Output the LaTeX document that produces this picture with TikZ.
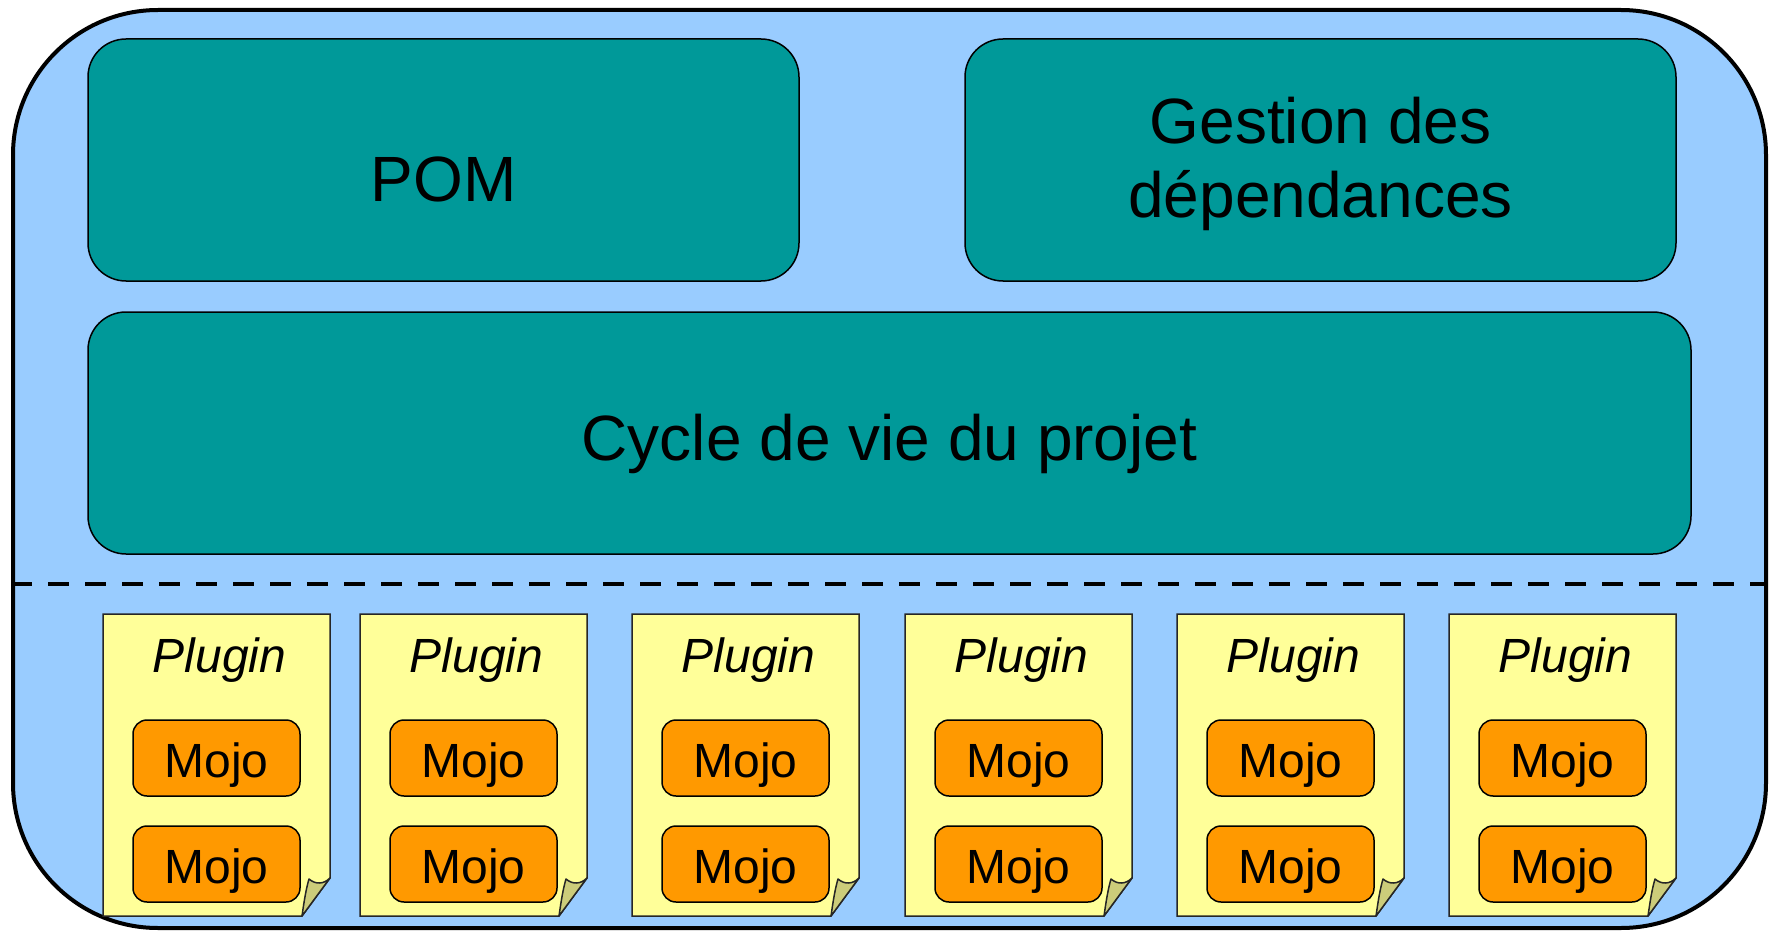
\documentclass[tikz,border=0pt]{standalone}
\usepackage{fontspec}
\setmainfont{Liberation Sans}
\definecolor{bgblue}{HTML}{99CCFF}
\definecolor{tealbox}{HTML}{009999}
\definecolor{pageyellow}{HTML}{FFFF99}
\definecolor{flapcol}{HTML}{CCCC7A}
\definecolor{mojoorange}{HTML}{FF9900}
\tikzset{
  outerbox/.style={draw=black, line width=2pt, fill=bgblue, rounded corners=72.5pt, inner sep=0pt},
  tealnode/.style={draw=black, line width=0.75pt, fill=tealbox, rounded corners=19pt, inner sep=0pt,
     minimum height=121pt},
  bigtext/.style={font=\fontsize{32pt}{37pt}\selectfont, inner sep=0pt},
  pagebody/.style={draw=black!85, line width=0.75pt, fill=pageyellow},
  pageflap/.style={draw=black!85, line width=0.75pt, fill=flapcol, line join=round},
  plugtext/.style={font=\fontsize{24pt}{28pt}\selectfont\itshape, inner sep=0pt, anchor=base},
  mojobox/.style={draw=black, line width=0.75pt, fill=mojoorange, rounded corners=7pt, inner sep=0pt,
     minimum width=83.5pt, minimum height=38pt, text height=19pt, text depth=0pt,
     font=\fontsize{24pt}{28pt}\selectfont},
  divider/.style={line width=2.25pt, dash pattern=on 10.5pt off 8pt}
}
\begin{document}
\begin{tikzpicture}[x=0.5pt,y=-0.5pt]
\useasboundingbox (0,0) rectangle (1774,931);
\node[outerbox, minimum width=876.5pt, minimum height=459pt] (outer) at (889.5,469) {};

\node[tealnode, minimum width=355.5pt] (pom) at (443.5,160) {};
\node[bigtext, anchor=base] (pomtext) at (443.5,202) {POM};
\node[tealnode, minimum width=355.5pt] (gest) at (1320.5,160) {};
\node[bigtext, anchor=base] (gesta) at (1320.5,144) {Gestion des};
\node[bigtext, anchor=base] (gestb) at (1320.5,218) {dépendances};
\node[tealnode, minimum width=801.5pt] (cycle) at (889.5,433) {};
\node[bigtext, anchor=base] (cycletext) at (889.5,460) {Cycle de vie du projet};

\coordinate (dashy) at (0,584);
\draw[divider] (outer.west |- dashy) -- (outer.east |- dashy);

\foreach \i/\x in {1/103,2/360,3/632,4/905,5/1177,6/1449}{
  \pgfmathsetmacro{\R}{\x+227}
  \pgfmathsetmacro{\C}{\x+113.5}
  \draw[pagebody] (\x,614) -- (\R,614) -- (\R,878) -- ({\R-28},916) -- (\x,916) -- cycle;
  \draw[pageflap] ({\R-28},916) .. controls ({\R-26},902) and ({\R-24},889) .. ({\R-21},879)
     .. controls ({\R-14},885) and ({\R-6},884) .. (\R,878) -- cycle;
  \node[plugtext] (plug\i) at ({\C+3},672) {Plugin};
  \node[mojobox] (mojoa\i) at (\C,758) {Mojo};
  \node[mojobox] (mojob\i) at (\C,864) {Mojo};
}
\end{tikzpicture}
\end{document}
